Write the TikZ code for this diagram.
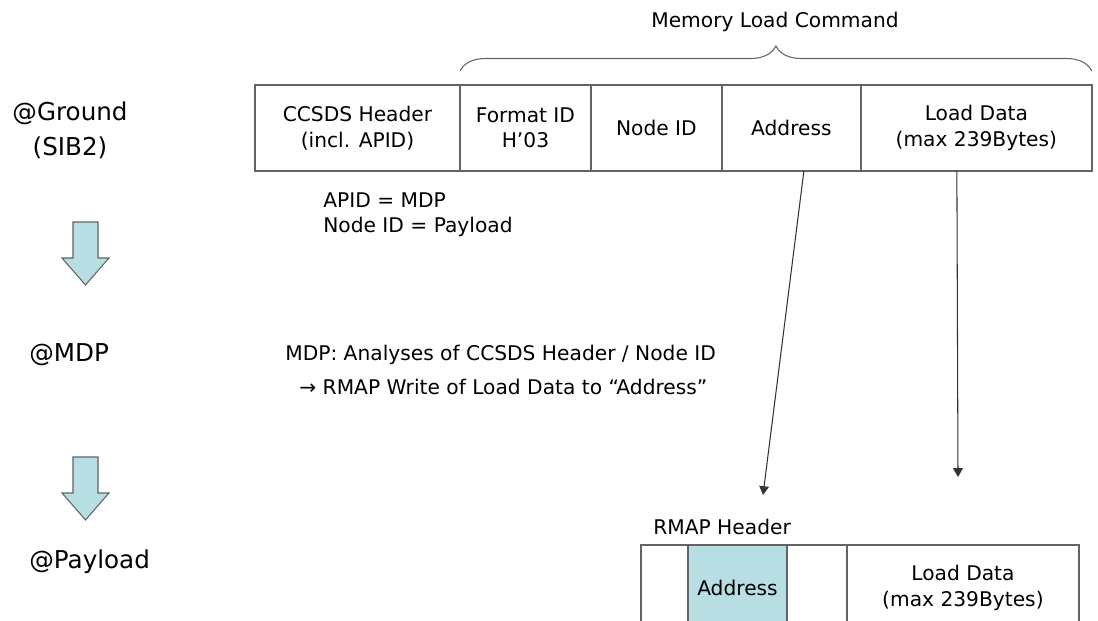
\documentclass[tikz,border=0pt]{standalone}
\usepackage{fontspec}
\setmainfont{DejaVu Sans}
\usetikzlibrary{positioning,arrows.meta,decorations.pathreplacing}

\definecolor{paleblue}{RGB}{183,222,226}
\definecolor{linegray}{RGB}{100,100,100}

\begin{document}
\begin{tikzpicture}[x=0.02cm,y=-0.02cm,
  every node/.style={font=\fontsize{11.5}{14.5}\selectfont,inner sep=0pt},
  cell/.style={draw=linegray,line width=0.8pt,minimum height=1.72cm,outer sep=0pt,align=center,anchor=west},
  site/.style={font=\fontsize{14}{20}\selectfont,align=center},
  note/.style={anchor=west,align=left},
  link/.style={draw=black!80,line width=0.6pt,-{Triangle[width=5.5pt,length=5pt]}},
  blockarrow/.style={fill=paleblue,draw=linegray,line width=0.6pt}]

  \clip (0,0) rectangle (1098,621);

  % where the command is
  \node[site] (ground) at (70,130) {@Ground\\(SIB2)};
  \node[site,anchor=west] (mdp) at (29,355) {@MDP};
  \node[site,anchor=west] (payload) at (29,562) {@Payload};

  \foreach \y in {222,457}
    \draw[blockarrow] (73,\y) -- (98,\y) -- (98,\y+36) -- (109,\y+36)
      -- (85.5,\y+63) -- (62,\y+36) -- (73,\y+36) -- cycle;

  % memory load command
  \node[cell,minimum width=4.1cm] (hdr) at (255,128) {CCSDS Header\\(incl. APID)};
  \node[cell,minimum width=2.62cm,right=0pt of hdr] (fmt) {Format ID\\H’03};
  \node[cell,minimum width=2.62cm,right=0pt of fmt] (nid) {Node ID};
  \node[cell,minimum width=2.78cm,right=0pt of nid] (addr) {Address};
  \node[cell,minimum width=4.62cm,right=0pt of addr] (load) {Load Data\\(max 239Bytes)};

  \draw[linegray,line width=0.6pt,decorate,decoration={brace,amplitude=0.5cm}]
    ([yshift=0.28cm]fmt.north west) -- ([yshift=0.28cm]load.north east);
  \node (mlc) at (775,22) {Memory Load Command};

  \node[note] (apid) at (323,215) {APID = MDP\\Node ID = Payload};
  \node[note] (mdpnote) at (285,370)
    {MDP: Analyses of CCSDS Header / Node ID\\[5pt]\hspace{8pt}→ RMAP Write of Load Data to “Address”};

  % RMAP packet
  \node[note] (rmap) at (653,527) {RMAP Header};
  \node[cell,minimum width=0.94cm] (r1) at (641,588) {};
  \node[cell,minimum width=1.98cm,fill=paleblue,right=0pt of r1] (raddr) {Address};
  \node[cell,minimum width=1.2cm,right=0pt of raddr] (r3) {};
  \node[cell,minimum width=4.64cm,right=0pt of r3] (rload) {Load Data\\(max 239Bytes)};

  \coordinate (atip) at (763,495);
  \coordinate (ltip) at (958,477);
  \draw[link] ([xshift=0.25cm]addr.south) -- (atip);
  \draw[link] ([xshift=-0.39cm]load.south) -- (ltip);

\end{tikzpicture}
\end{document}
